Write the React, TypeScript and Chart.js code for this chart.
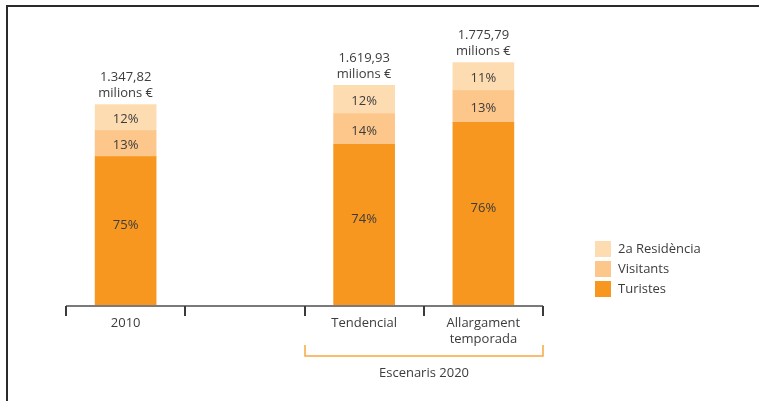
import { useRef, useEffect } from "react";
import { Chart, registerables } from "chart.js";

Chart.register(...registerables);

// categories (the empty one is the gap between 2010 and the 2020 scenarios)
const categories = ["2010", "", "Tendencial", "Allargament temporada"];

// segment values in million €
const turistes = [1090, null, 1180, 1340];
const visitants = [190, null, 225, 232];
const residencia = [190, null, 205, 205];

// texts printed on the chart
const turistesPct = ["75%", "", "74%", "76%"];
const visitantsPct = ["13%", "", "14%", "13%"];
const residenciaPct = ["12%", "", "12%", "11%"];
const totals = ["1.347,82", "", "1.619,93", "1.775,79"];
const groupLabel = "Escenaris 2020";

const COLORS = {
  turistes: "#f7971f",
  visitants: "#fdc68a",
  residencia: "#fedcb2",
  text: "#3c3c3c",
  bracket: "#f9a73e",
};

const FONT = "'Open Sans', Roboto, sans-serif";

const decorPlugin = {
  id: "decor",
  afterDraw(chart: Chart) {
    const ctx = chart.ctx;
    const xs = chart.scales.x;
    const ys = chart.scales.y;
    const area = chart.chartArea;
    const n = categories.length;
    const step = (xs.right - xs.left) / n;
    const base = ys.getPixelForValue(0);

    ctx.save();

    // frame (top + left)
    ctx.strokeStyle = "#2a2a2a";
    ctx.lineWidth = 2;
    ctx.beginPath();
    ctx.moveTo(7, chart.height);
    ctx.lineTo(7, 6);
    ctx.lineTo(chart.width, 6);
    ctx.stroke();

    // axis line
    ctx.strokeStyle = "#7a7a7a";
    ctx.lineWidth = 2;
    ctx.beginPath();
    ctx.moveTo(area.left, base);
    ctx.lineTo(area.right, base);
    ctx.stroke();

    // tick marks at category boundaries
    ctx.strokeStyle = "#3a3a3a";
    for (let k = 0; k <= n; k++) {
      const x = Math.round(xs.left + k * step);
      ctx.beginPath();
      ctx.moveTo(x, base);
      ctx.lineTo(x, base + 10);
      ctx.stroke();
    }

    ctx.fillStyle = COLORS.text;
    ctx.textAlign = "center";
    ctx.textBaseline = "middle";
    ctx.font = `13px ${FONT}`;

    // category labels
    categories.forEach((c, i) => {
      if (!c) return;
      const x = xs.getPixelForValue(i);
      const words = c.split(" ");
      words.forEach((w, j) => ctx.fillText(w, x, base + 17 + j * 16));
    });

    // segment percentages (the big segment's label sits a bit above centre)
    const pcts = [turistesPct, visitantsPct, residenciaPct];
    pcts.forEach((arr, d) => {
      const meta = chart.getDatasetMeta(d);
      meta.data.forEach((bar: any, i: number) => {
        if (!arr[i]) return;
        const mid = (bar.y + bar.base) / 2;
        ctx.fillText(arr[i], bar.x, d === 0 ? mid - 6 : mid + 2);
      });
    });

    // totals above bars
    const topMeta = chart.getDatasetMeta(2);
    topMeta.data.forEach((bar: any, i: number) => {
      if (!totals[i]) return;
      ctx.fillText(totals[i], bar.x, bar.y - 27);
      ctx.fillText("milions €", bar.x, bar.y - 11);
    });

    // bracket under the 2020 scenarios
    const bx1 = Math.round(xs.left + 2 * step);
    const bx2 = Math.round(xs.left + 4 * step);
    const by = base + 50;
    ctx.strokeStyle = COLORS.bracket;
    ctx.lineWidth = 1.5;
    ctx.beginPath();
    ctx.moveTo(bx1, by - 11);
    ctx.lineTo(bx1, by);
    ctx.lineTo(bx2, by);
    ctx.lineTo(bx2, by - 11);
    ctx.stroke();
    ctx.fillStyle = COLORS.text;
    ctx.fillText(groupLabel, (bx1 + bx2) / 2, by + 17);

    // legend (top of stack first)
    const items = [2, 1, 0];
    items.forEach((d, r) => {
      const ds = chart.data.datasets[d];
      const y = 241 + r * 20;
      ctx.fillStyle = ds.backgroundColor as string;
      ctx.fillRect(595, y, 16, 16);
      ctx.fillStyle = COLORS.text;
      ctx.textAlign = "left";
      ctx.fillText(ds.label as string, 618, y + 8);
    });

    ctx.restore();
  },
};

export default function App() {
  const chartRef = useRef<HTMLCanvasElement | null>(null);
  const chartInstance = useRef<Chart | null>(null);

  useEffect(() => {
    document.body.style.margin = "0";
    if (!chartRef.current) return;
    if (chartInstance.current) chartInstance.current.destroy();

    const ctx = chartRef.current.getContext("2d");
    if (!ctx) return;

    chartInstance.current = new Chart(ctx, {
      type: "bar",
      data: {
        labels: categories,
        datasets: [
          { label: "Turistes", data: turistes, backgroundColor: COLORS.turistes },
          { label: "Visitants", data: visitants, backgroundColor: COLORS.visitants },
          { label: "2a Residència", data: residencia, backgroundColor: COLORS.residencia },
        ],
      },
      options: {
        animation: false,
        responsive: true,
        maintainAspectRatio: false,
        layout: { padding: { left: 66, right: 216, top: 32, bottom: 95 } },
        datasets: { bar: { barThickness: 61, borderWidth: 0 } },
        plugins: {
          legend: { display: false },
          tooltip: { enabled: false },
        },
        scales: {
          x: { stacked: true, display: false },
          y: { stacked: true, display: false, min: 0, max: 2000 },
        },
      },
      plugins: [decorPlugin],
    });

    return () => {
      if (chartInstance.current) {
        chartInstance.current.destroy();
        chartInstance.current = null;
      }
    };
  }, []);

  return (
    <div style={{ width: 759, height: 401, position: "relative" }}>
      <canvas ref={chartRef} />
    </div>
  );
}
